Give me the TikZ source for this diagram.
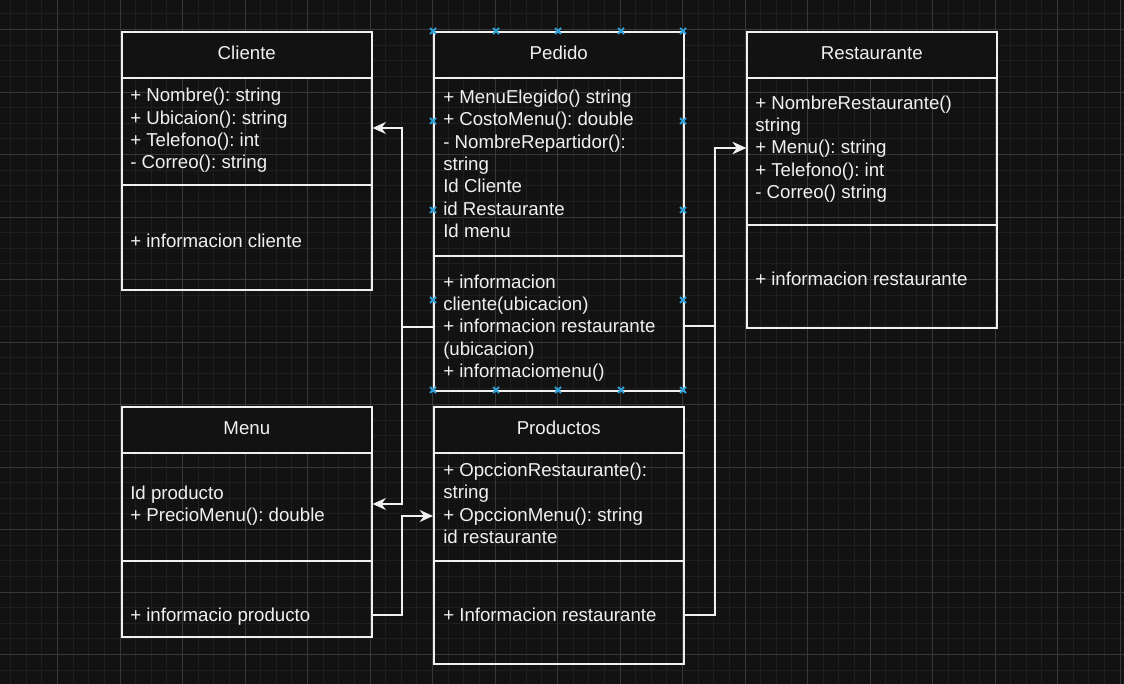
\documentclass[tikz,border=0pt]{standalone}
\usepackage{fontspec}
\setmainfont{Liberation Sans}
\usetikzlibrary{arrows.meta}
\frenchspacing

\definecolor{fondo}{RGB}{18,18,18}
\definecolor{rejilla}{RGB}{31,31,31}
\definecolor{rejillamayor}{RGB}{56,56,56}
\definecolor{trazo}{RGB}{240,240,240}
\definecolor{seleccion}{RGB}{45,160,215}

\tikzset{
  caja/.style={draw=trazo, line width=1.2pt, rectangle, anchor=north west, minimum width=187.5pt, inner sep=0pt},
  titulo/.style={caja, fill=fondo, minimum height=34.5pt, text=trazo, font=\fontsize{14}{16.5}\selectfont, text height=10pt, text depth=3pt},
  texto/.style={anchor=base west, align=left, inner sep=0pt, text=trazo, font=\fontsize{14}{16.75}\selectfont\frenchspacing},
  linea/.style={draw=trazo, line width=1.2pt},
  flecha/.style={draw=trazo, line width=1.1pt, -{Stealth[length=10pt, width=9pt]}},
  marca/.style={draw=seleccion, line width=1.4pt}
}

\begin{document}
\begin{tikzpicture}[x=0.75pt, y=-0.75pt]
    \useasboundingbox (0,0) rectangle (1124,684);

    % Fondo y rejilla
    \fill[fondo] (0,0) rectangle (1124,684);
    \begin{scope}
        \clip (0,0) rectangle (1124,684);
        \foreach \i in {0,...,72} \draw[rejilla, line width=0.7pt] (-5+\i*15.625,0) -- (-5+\i*15.625,684);
        \foreach \i in {0,...,46} \draw[rejilla, line width=0.7pt] (0,-33+\i*15.625) -- (1124,-33+\i*15.625);
        \foreach \i in {0,...,18} \draw[rejillamayor, line width=0.7pt] (-5+\i*62.5,0) -- (-5+\i*62.5,684);
        \foreach \i in {0,...,12} \draw[rejillamayor, line width=0.7pt] (0,-33+\i*62.5) -- (1124,-33+\i*62.5);
    \end{scope}

    % Cliente (el ancla base es la ultima linea)
    \node[caja, minimum height=193.5pt] (cliente) at (121,31) {};
    \node[titulo] (cliente_tit) at (121,31) {Cliente};
    \draw[linea] (cliente.west |- 0,185) -- (cliente.east |- 0,185);
    \node[texto] (cliente_atr) at (130,168.7) {+ Nombre(): string\\+ Ubicaion(): string\\+ Telefono(): int\\- Correo(): string};
    \node[texto] (cliente_met) at (130,247.5) {+ informacion cliente};

    % Pedido
    \node[caja, minimum height=269.25pt] (pedido) at (433,31) {};
    \node[titulo] (pedido_tit) at (433,31) {Pedido};
    \draw[linea] (pedido.west |- 0,256) -- (pedido.east |- 0,256);
    \node[texto] (pedido_atr) at (443,237.5) {+ MenuElegido() string\\+ CostoMenu(): double\\- NombreRepartidor():\\string\\Id Cliente\\id Restaurante\\Id menu};
    \node[texto] (pedido_met) at (443,377.5) {+ informacion\\cliente(ubicacion)\\+ informacion restaurante\\(ubicacion)\\+ informaciomenu()};

    % Restaurante
    \node[caja, minimum height=222pt] (restaurante) at (746,31) {};
    \node[titulo] (restaurante_tit) at (746,31) {Restaurante};
    \draw[linea] (restaurante.west |- 0,225) -- (restaurante.east |- 0,225);
    \node[texto] (restaurante_atr) at (755,198.5) {+ NombreRestaurante()\\string\\+ Menu(): string\\+ Telefono(): int\\- Correo() string};
    \node[texto] (restaurante_met) at (755,285.5) {+ informacion restaurante};

    % Menu
    \node[caja, minimum height=172.5pt] (menu) at (121,406) {};
    \node[titulo] (menu_tit) at (121,406) {Menu};
    \draw[linea] (menu.west |- 0,561) -- (menu.east |- 0,561);
    \node[texto] (menu_atr) at (130,521.5) {Id producto\\+ PrecioMenu(): double};
    \node[texto] (menu_met) at (130,621.5) {+ informacio producto};

    % Productos
    \node[caja, minimum height=192.75pt] (productos) at (433,406) {};
    \node[titulo] (productos_tit) at (433,406) {Productos};
    \draw[linea] (productos.west |- 0,561) -- (productos.east |- 0,561);
    \node[texto] (productos_atr) at (443,543.5) {+ OpccionRestaurante():\\string\\+ OpccionMenu(): string\\id restaurante};
    \node[texto] (productos_met) at (443,621.5) {+ Informacion restaurante};

    % Conexiones
    \coordinate (nudo_izq) at (402,327);
    \coordinate (nudo_der) at (715,326);
    \draw[flecha] (pedido.west |- nudo_izq) -- (nudo_izq) |- (cliente.east |- 0,128);
    \draw[flecha] (pedido.west |- nudo_izq) -- (nudo_izq) |- (menu.east |- 0,504);
    \draw[flecha] (menu.east |- 0,615) -- (402,615) |- (productos.west |- 0,516);
    \draw[flecha] (productos.east |- 0,615) -- (715,615) |- (restaurante.west |- 0,148);
    \draw[flecha] (pedido.east |- nudo_der) -- (nudo_der) |- (restaurante.west |- 0,148);

    % Marcas de seleccion
    \foreach \x/\y in {433/31, 496/31, 558/31, 621/31, 683/31, 433/390, 496/390, 558/390, 621/390, 683/390, 433/121, 433/210, 433/300, 683/121, 683/210, 683/300}
        \draw[marca] (\x-3,\y-3) -- (\x+3,\y+3) (\x-3,\y+3) -- (\x+3,\y-3);

\end{tikzpicture}
\end{document}
